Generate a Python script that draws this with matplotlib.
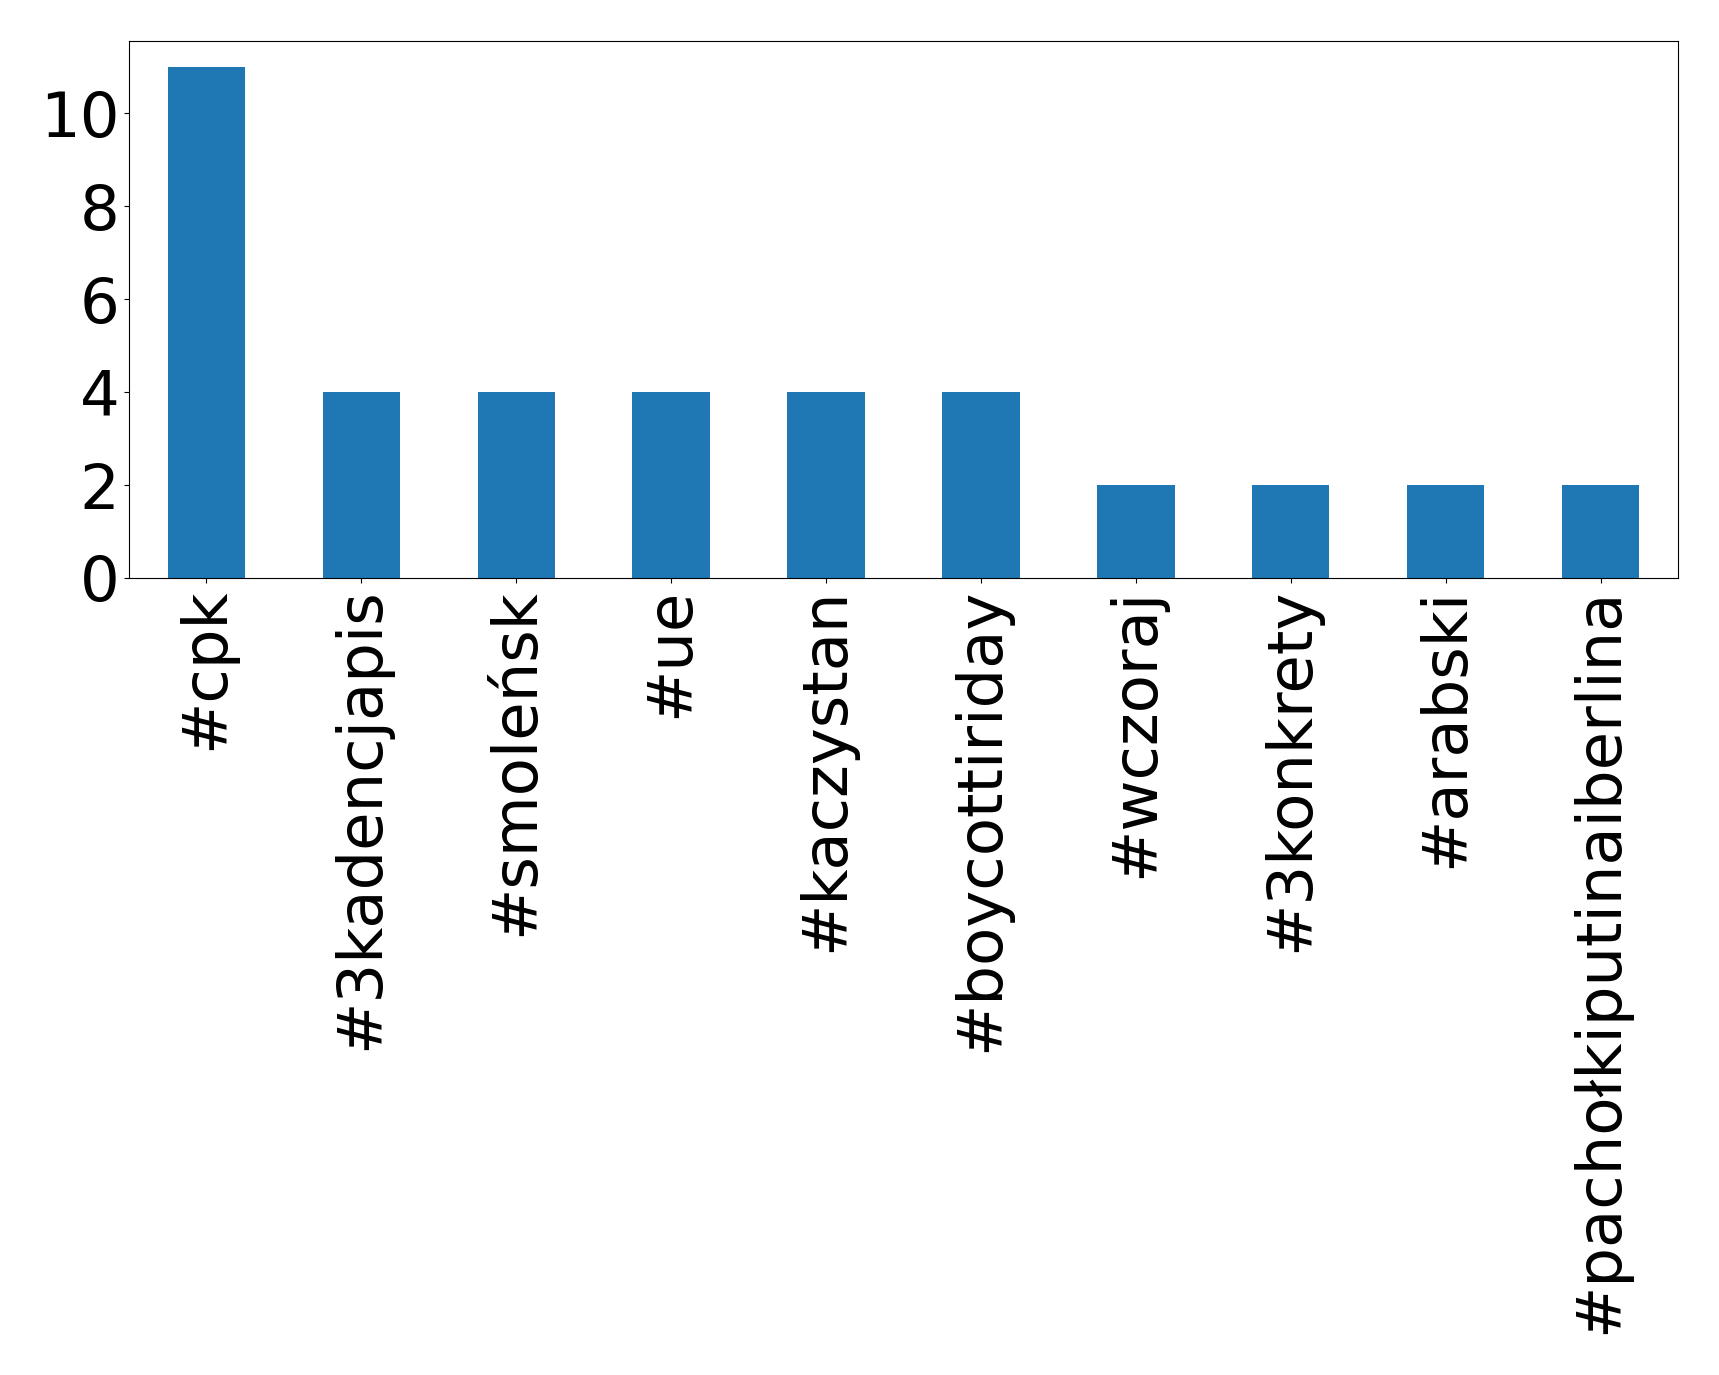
import matplotlib.pyplot as plt
import pandas as pd

hashtags = ['#cpk', '#3kadencjapis', '#smoleńsk', '#ue', '#kaczystan',
            '#boycottiriday', '#wczoraj', '#3konkrety', '#arabski',
            '#pachołkiputinaiberlina']
counts = [11, 4, 4, 4, 4, 4, 2, 2, 2, 2]

s = pd.Series(counts, index=hashtags)

fig = plt.figure(figsize=(17.19, 13.75), dpi=100)
ax = fig.add_axes([129/1719, 1 - 578/1375, (1678-129)/1719, (578-41)/1375])
s.plot(kind='bar', ax=ax, color='#1f77b4', fontsize=45)
ax.set_yticks([0, 2, 4, 6, 8, 10])
plt.savefig('out.png', dpi=100)
